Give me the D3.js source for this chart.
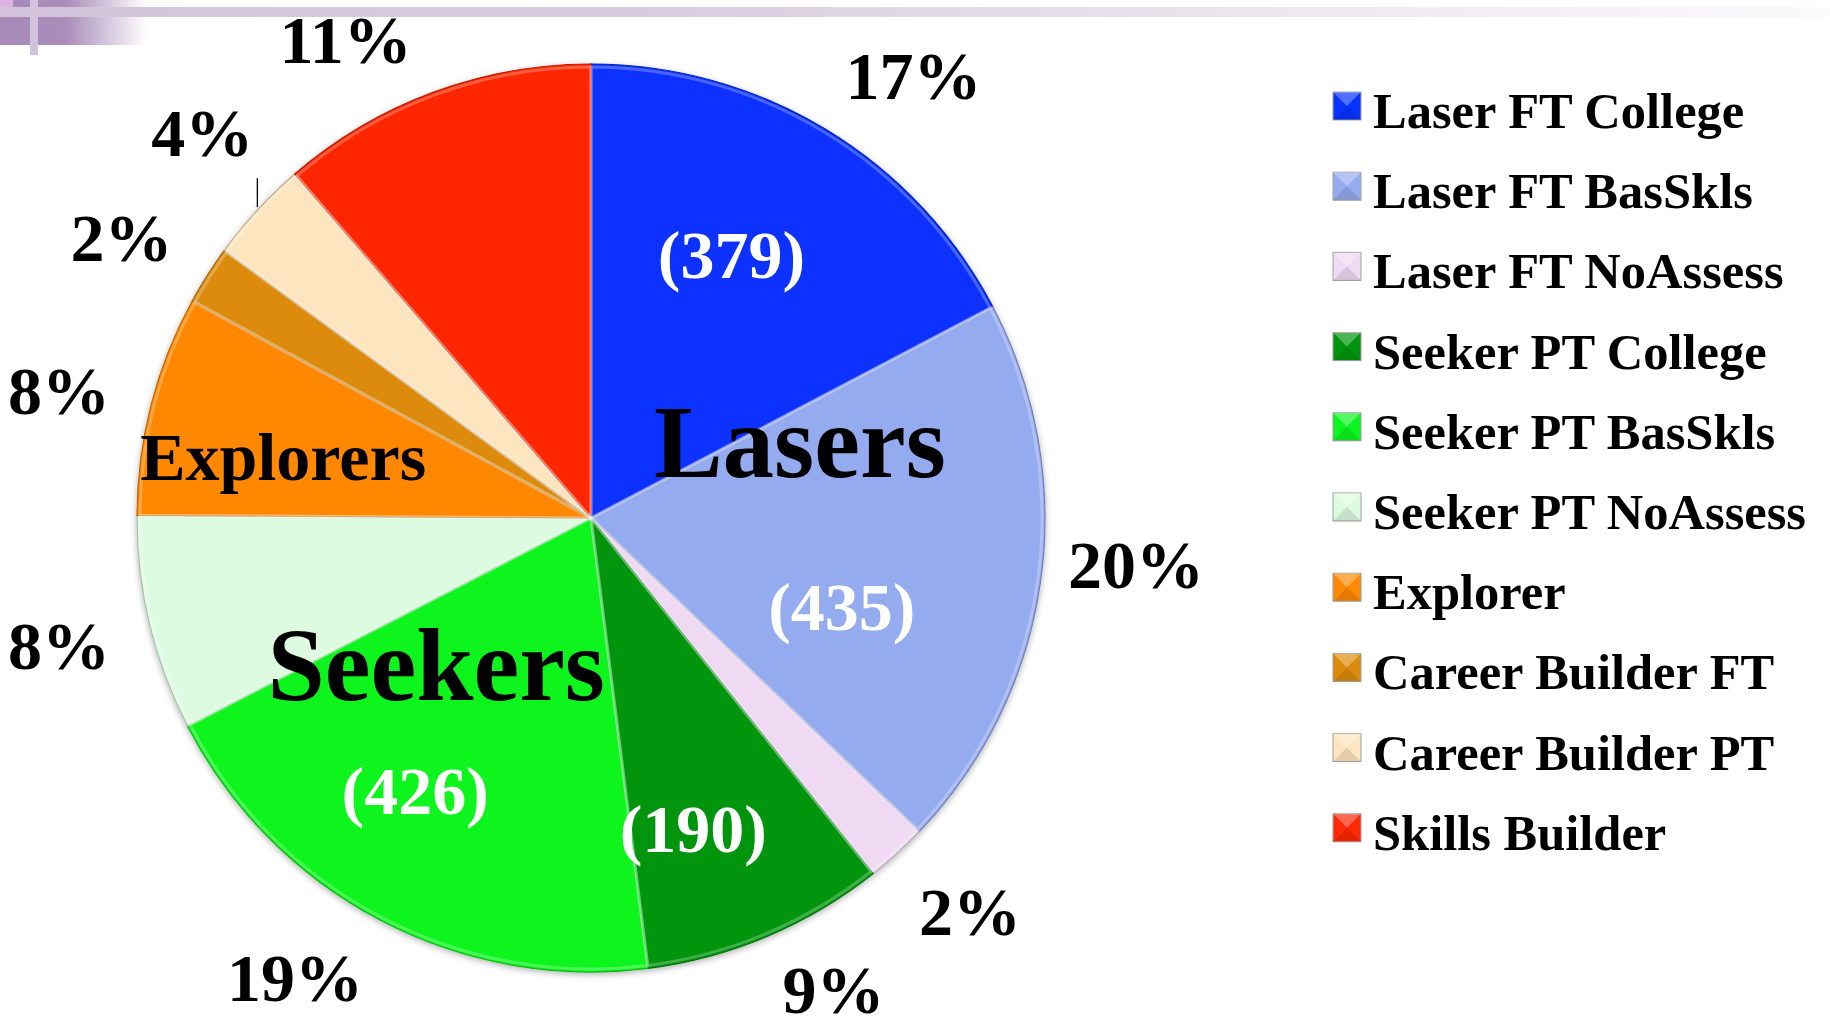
<!DOCTYPE html>
<html>
<head>
<meta charset="utf-8">
<script src="https://cdn.jsdelivr.net/npm/d3@7"></script>
<style>
  body { margin: 0; background: #fff; }
  svg { display: block; }
  text { font-family: "Liberation Serif", "Times New Roman", serif; font-weight: bold; }
</style>
</head>
<body>
<svg id="chart"></svg>
<script>
// data
const categories = ["Laser FT College", "Laser FT BasSkls", "Laser FT NoAssess",
    "Seeker PT College", "Seeker PT BasSkls", "Seeker PT NoAssess",
    "Explorer", "Career Builder FT", "Career Builder PT", "Skills Builder"];
const counts = [379, 435, 48, 190, 426, 168, 172, 46, 80, 248];
const colors = ["#0733ff", "#95abf0", "#efd9f3", "#00950f", "#0bf51f",
    "#ddfbe0", "#ff8804", "#dd8b0c", "#fde5bf", "#ff2802"];
const countShown = ["Laser FT College", "Laser FT BasSkls", "Seeker PT College", "Seeker PT BasSkls"];
const groupNames = ["Lasers", "Seekers", "Explorers"];

const width = 1830;
const height = 1032;
const cx = 591, cy = 518, radius = 454;

// layout tweaks: labels that were moved by hand in the original (degrees)
const pctShift = [5, -3, -1.5, -3.5, 5, 0, -1, -1.5, 2, -6.3];
const countLayout = {
    "Laser FT College": {shift: -3, r: 298},
    "Laser FT BasSkls": {shift: 11.5, r: 266},
    "Seeker PT College": {shift: 4.6, r: 327},
    "Seeker PT BasSkls": {shift: 5, r: 325}
};
const groupLayout = {
    "Lasers": {x: 0.46, y: -0.09, size: 103},
    "Seekers": {x: -0.341, y: 0.40, size: 103},
    "Explorers": {x: -0.678, y: -0.084, size: 68}
};

const data = categories.map((c, i) => ({name: c, count: counts[i], color: colors[i]}));
const total = d3.sum(counts);

const svg = d3.select('#chart')
    .attr('width', width)
    .attr('height', height);

const defs = svg.append('defs');

// slide decoration top-left
const fade = defs.append('linearGradient').attr('id', 'fade');
fade.append('stop').attr('offset', '0%').attr('stop-color', '#a68ab7');
fade.append('stop').attr('offset', '45%').attr('stop-color', '#a98dba');
fade.append('stop').attr('offset', '100%').attr('stop-color', '#ffffff');

const band = defs.append('linearGradient').attr('id', 'band');
band.append('stop').attr('offset', '0%').attr('stop-color', '#d3c3da');
band.append('stop').attr('offset', '35%').attr('stop-color', '#d8cbde');
band.append('stop').attr('offset', '70%').attr('stop-color', '#ede7f0');
band.append('stop').attr('offset', '100%').attr('stop-color', '#fafafa');

const shadow = defs.append('filter').attr('id', 'shadow')
    .attr('x', '-10%').attr('y', '-10%').attr('width', '120%').attr('height', '120%');
shadow.append('feDropShadow')
    .attr('dx', 0).attr('dy', 2)
    .attr('stdDeviation', 3)
    .attr('flood-color', '#000')
    .attr('flood-opacity', 0.3);

const deco = svg.append('g');
deco.append('rect').attr('x', 0).attr('y', 0).attr('width', 147).attr('height', 45).attr('fill', 'url(#fade)');
deco.append('rect').attr('x', 0).attr('y', 0).attr('width', 13).attr('height', 7).attr('fill', '#dcb3df');
deco.append('rect').attr('x', 0).attr('y', 7).attr('width', width).attr('height', 10).attr('fill', 'url(#band)');
deco.append('rect').attr('x', 30).attr('y', 0).attr('width', 8).attr('height', 55).attr('fill', '#d3c3da');

// pie
const pie = d3.pie()
    .sort(null)
    .value(d => d.count);

const arcs = pie(data);

const arc = d3.arc()
    .innerRadius(0)
    .outerRadius(radius);

const rim = d3.arc()
    .innerRadius(0)
    .outerRadius(radius - 3);

const polar = (a, r) => d3.arc().innerRadius(r).outerRadius(r)
    .centroid({startAngle: a, endAngle: a});

const g = svg.append('g')
    .attr('transform', `translate(${cx}, ${cy})`);

g.append('g')
    .attr('filter', 'url(#shadow)')
    .selectAll('path')
    .data(arcs)
    .join('path')
    .attr('d', arc)
    .attr('fill', d => d.data.color)
    .attr('stroke', d => d3.color(d.data.color).darker(0.8))
    .attr('stroke-width', 1.2);

// soft bevel highlight
g.append('g')
    .selectAll('path')
    .data(arcs)
    .join('path')
    .attr('d', rim)
    .attr('fill', 'none')
    .attr('stroke', '#fff')
    .attr('stroke-opacity', 0.25)
    .attr('stroke-width', 3);

const mid = d => (d.startAngle + d.endAngle) / 2;

// keep outside labels inside the slide
const clampY = p => [p[0], Math.max(40 - cy, Math.min(990 - cy, p[1]))];

// percent labels outside
g.append('g')
    .selectAll('text')
    .data(arcs)
    .join('text')
    .attr('transform', (d, i) => {
        const p = clampY(polar(mid(d) + pctShift[i] * Math.PI / 180, 547));
        return `translate(${p[0]}, ${p[1]})`;
    })
    .attr('text-anchor', 'middle')
    .attr('dy', '0.34em')
    .attr('font-size', 68)
    .attr('fill', '#000')
    .text(d => Math.round(d.data.count / total * 100) + '%');

// leader line for the small slice whose label sits off the edge
const leader = arcs.find(d => d.data.name === "Career Builder PT");
const lp = polar(mid(leader), radius);
g.append('line')
    .attr('x1', lp[0]).attr('y1', lp[1] - 3)
    .attr('x2', lp[0]).attr('y2', lp[1] - 32)
    .attr('stroke', '#000')
    .attr('stroke-width', 1.3);

// counts inside
g.append('g')
    .selectAll('text')
    .data(arcs.filter(d => countShown.includes(d.data.name)))
    .join('text')
    .attr('transform', d => {
        const l = countLayout[d.data.name];
        const p = polar(mid(d) + l.shift * Math.PI / 180, l.r);
        return `translate(${p[0]}, ${p[1]})`;
    })
    .attr('text-anchor', 'middle')
    .attr('dy', '0.34em')
    .attr('font-size', 68)
    .attr('fill', '#fff')
    .text(d => `(${d.data.count})`);

// group names
g.append('g')
    .selectAll('text')
    .data(groupNames)
    .join('text')
    .attr('x', d => groupLayout[d].x * radius)
    .attr('y', d => groupLayout[d].y * radius)
    .attr('text-anchor', 'middle')
    .attr('font-size', d => groupLayout[d].size)
    .attr('fill', '#000')
    .text(d => d);

// legend
const legendY = d3.scaleBand()
    .domain(categories)
    .range([92, 92 + 80.2 * categories.length]);

const legend = svg.append('g')
    .selectAll('g')
    .data(data)
    .join('g')
    .attr('transform', d => `translate(1333, ${legendY(d.name)})`);

legend.append('rect')
    .attr('width', 28)
    .attr('height', 28)
    .attr('fill', d => d.color)
    .attr('stroke', '#a0a0a0')
    .attr('stroke-width', 1);

legend.append('path')
    .attr('d', 'M0,0 L28,0 L14,14 Z')
    .attr('fill', '#fff')
    .attr('fill-opacity', 0.3);

legend.append('path')
    .attr('d', 'M0,28 L28,28 L14,14 Z')
    .attr('fill', '#000')
    .attr('fill-opacity', 0.1);

legend.append('text')
    .attr('x', 40)
    .attr('y', 36)
    .attr('font-size', 50.5)
    .attr('fill', '#000')
    .text(d => d.name);
</script>
</body>
</html>
